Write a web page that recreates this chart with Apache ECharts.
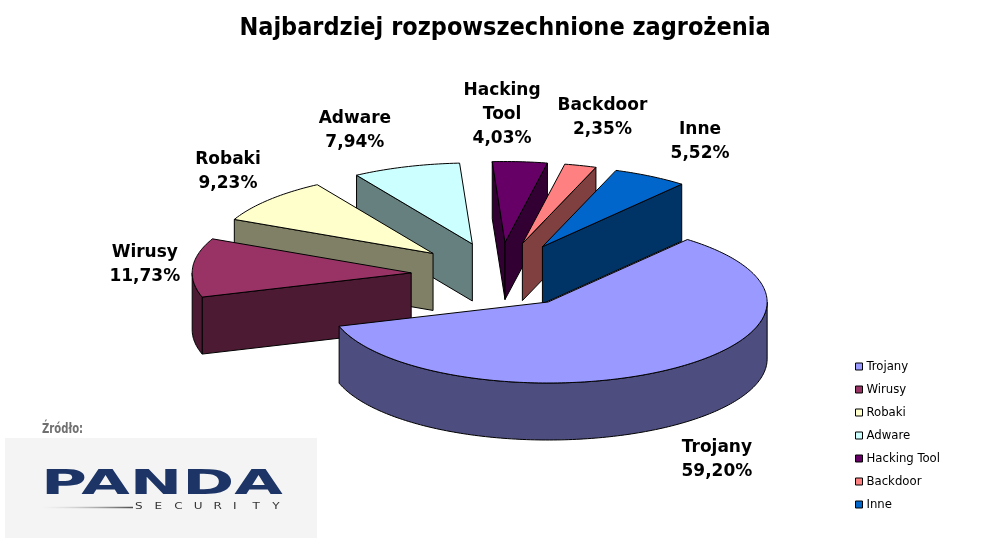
<!DOCTYPE html>
<html>
<head>
<meta charset="utf-8">
<title>Najbardziej rozpowszechnione zagrożenia</title>
<style>
    html, body { margin: 0; padding: 0; background: #fff; }
    #chart { width: 988px; height: 547px; }
</style>
</head>
<body>
<div id="chart"></div>
<script src="https://cdn.jsdelivr.net/npm/echarts@6/dist/echarts.min.js"></script>
<script>
// dane z wykresu (udział w %)
var categories = ['Trojany', 'Wirusy', 'Robaki', 'Adware', 'Hacking Tool', 'Backdoor', 'Inne'];
var shares = [59.20, 11.73, 9.23, 7.94, 4.03, 2.35, 5.52];
var colors = ['#9999ff', '#993366', '#ffffcc', '#ccffff', '#660066', '#ff8080', '#0066cc'];

// geometria "3D" (piksele)
var CX = 499, CY = 275, RX = 219, RY = 81, DEPTH = 57, EXPLODE = 88, START = -50.5;
var RAD = Math.PI / 180;
// przesuniecie etykiet wzgledem pozycji liczonej (jak w Excelu)
var labelNudge = [[13, -4], [12, 0], [4, 2], [-33, 7], [-22, -2], [6, -5], [20, 4]];

function darker(hex) {
    var n = parseInt(hex.slice(1), 16);
    var r = (n >> 16) & 255, g = (n >> 8) & 255, b = n & 255;
    return 'rgb(' + Math.round(r / 2) + ',' + Math.round(g / 2) + ',' + Math.round(b / 2) + ')';
}
function pct(v) {
    return v.toFixed(2).replace('.', ',') + '%';
}

var total = shares.reduce(function (a, b) { return a + b; }, 0);
var slices = [];
var acc = START;
shares.forEach(function (v) {
    var span = v / total * 360;
    slices.push({ s: acc, e: acc + span, m: acc + span / 2 });
    acc += span;
});

function poly(points, fill) {
    return {
        type: 'polygon',
        shape: { points: points },
        style: { fill: fill, stroke: '#000', lineWidth: 1 }
    };
}

function renderSlice(idx) {
    return function (params, api) {
        var sl = slices[idx];
        var k = RY / RX;
        var ax = CX + EXPLODE * Math.cos(sl.m * RAD);
        var ay = CY + EXPLODE * k * Math.sin(sl.m * RAD);
        function pt(a, dy) {
            return [ax + RX * Math.cos(a * RAD), ay + RY * Math.sin(a * RAD) + (dy || 0)];
        }
        var top = colors[idx], side = darker(top);
        var children = [];
        // sciany przekroju
        if (Math.cos(sl.s * RAD) < 0) {
            children.push(poly([[ax, ay], pt(sl.s), pt(sl.s, DEPTH), [ax, ay + DEPTH]], side));
        }
        if (Math.cos(sl.e * RAD) > 0) {
            children.push(poly([[ax, ay], pt(sl.e), pt(sl.e, DEPTH), [ax, ay + DEPTH]], side));
        }
        // boczna krawedz, tylko przod (0..180)
        [-360, 0, 360].forEach(function (base) {
            var a0 = Math.max(sl.s, base), a1 = Math.min(sl.e, base + 180);
            if (a1 <= a0) return;
            var pts = [], a;
            for (a = a0; a < a1; a += 1) pts.push(pt(a));
            pts.push(pt(a1));
            pts.push(pt(a1, DEPTH));
            for (a = a1; a > a0; a -= 1) pts.push(pt(a, DEPTH));
            pts.push(pt(a0, DEPTH));
            children.push(poly(pts, side));
        });
        // gorna powierzchnia
        var topPts = [[ax, ay]];
        for (var a = sl.s; a < sl.e; a += 1) topPts.push(pt(a));
        topPts.push(pt(sl.e));
        children.push(poly(topPts, top));
        // etykieta
        var c = Math.cos(sl.m * RAD), s = Math.sin(sl.m * RAD);
        var lx = ax + (RX + 60) * c + labelNudge[idx][0];
        var ly = ay + (RY + 45) * s + (s > 0.3 ? DEPTH : 0) + labelNudge[idx][1];
        children.push({
            type: 'text',
            style: {
                text: categories[idx].replace(' ', '\n') + '\n' + pct(shares[idx]),
                x: lx, y: ly,
                align: 'center', verticalAlign: 'middle',
                font: 'bold 17px "DejaVu Sans"',
                lineHeight: 24,
                fill: '#000'
            }
        });
        return { type: 'group', children: children };
    };
}

// kolejnosc rysowania: od tylu do przodu
var order = slices.map(function (s, i) { return i; }).sort(function (a, b) {
    return Math.sin(slices[a].m * RAD) - Math.sin(slices[b].m * RAD);
});

var series = categories.map(function (name, i) {
    return {
        type: 'custom',
        name: name,
        coordinateSystem: 'none',
        z: 2 + order.indexOf(i),
        silent: true,
        itemStyle: { color: colors[i] },
        data: [shares[i]],
        renderItem: renderSlice(i)
    };
});

var securityLetters = 'SECURITY'.split('').map(function (ch, i) {
    return {
        type: 'text', x: 135 + i * 19.6, y: 507,
        style: { text: ch, font: '8px "DejaVu Sans"', fill: '#333', verticalAlign: 'middle' },
        scaleX: 1.5
    };
});

var chart = echarts.init(document.getElementById('chart'));
chart.setOption({
    animation: false,
    backgroundColor: '#fff',
    title: {
        text: 'Najbardziej rozpowszechnione zagrożenia',
        left: 500, top: 11, textAlign: 'center',
        textStyle: { fontFamily: 'DejaVu Sans Condensed', fontWeight: 'bold', fontSize: 25, color: '#000' }
    },
    legend: {
        data: categories,
        orient: 'vertical',
        left: 850, top: 355,
        icon: 'rect',
        itemWidth: 7, itemHeight: 7,
        itemGap: 10,
        selectedMode: false,
        itemStyle: { borderColor: '#000', borderWidth: 1 },
        textStyle: { fontFamily: 'DejaVu Sans Condensed', fontSize: 13, color: '#000', padding: [0, 0, 0, -1] }
    },
    graphic: [
        { type: 'rect', shape: { x: 5, y: 438, width: 312, height: 100 }, style: { fill: '#f4f4f4' } },
        { type: 'text', x: 42, y: 429, scaleX: 0.8,
          style: { text: 'Źródło:', font: 'bold 14px "DejaVu Sans Condensed"', fill: '#707070', verticalAlign: 'middle' } },
        { type: 'text', x: 41, y: 485, scaleX: 1.9,
          style: { text: 'PANDA', font: 'bold 33px "DejaVu Sans"', fill: '#1c3466', verticalAlign: 'middle' } },
        { type: 'line', shape: { x1: 43, y1: 507.5, x2: 133, y2: 507.5 },
          style: { lineWidth: 1.5, stroke: { type: 'linear', x: 0, y: 0, x2: 1, y2: 0,
              colorStops: [{ offset: 0, color: 'rgba(200,200,200,0)' }, { offset: 1, color: '#444' }] } } }
    ].concat(securityLetters),
    series: series
});
</script>
</body>
</html>
